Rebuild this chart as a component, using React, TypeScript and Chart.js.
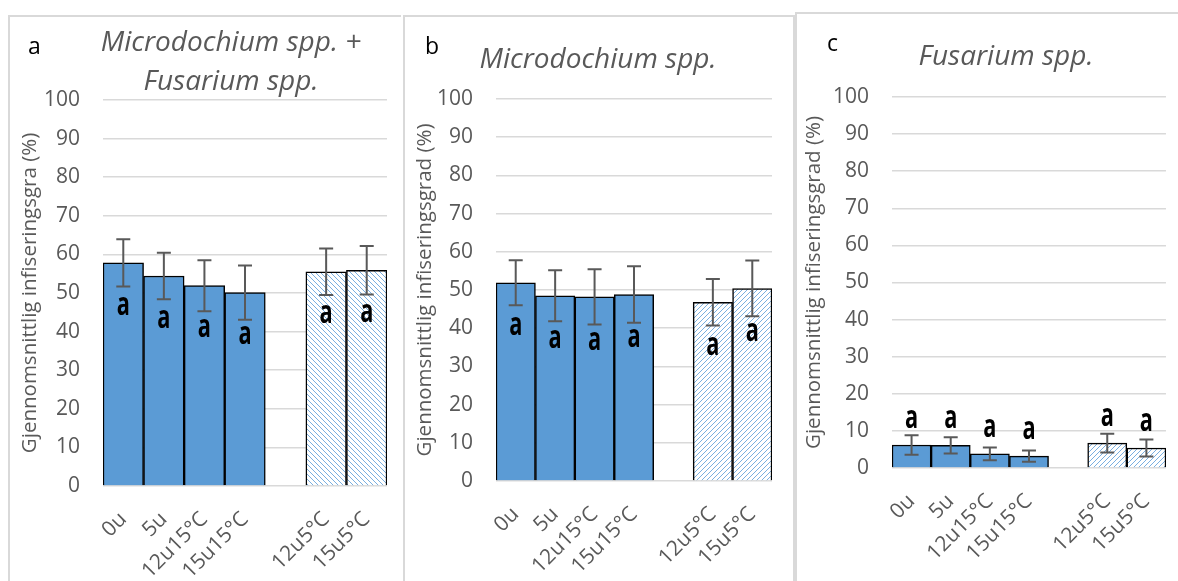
import React, { useEffect, useRef } from "react";
import { Chart, registerables } from "chart.js";

Chart.register(...registerables);

const categories = ["0u", "5u", "12u15°C", "15u15°C", "", "12u5°C", "15u5°C"];
const hatched = [false, false, false, false, false, true, true];

const meansA = [57.8, 54.4, 51.9, 50.1, null, 55.5, 55.9];
const errA = [6.1, 6.0, 6.6, 7.0, null, 6.0, 6.3];
const lettersA = ["a", "a", "a", "a", "", "a", "a"];

const meansB = [51.9, 48.5, 48.2, 48.8, null, 46.8, 50.4];
const errB = [5.9, 6.7, 7.2, 7.4, null, 6.1, 7.3];
const lettersB = ["a", "a", "a", "a", "", "a", "a"];

const meansC = [6.2, 6.1, 3.8, 3.2, null, 6.7, 5.4];
const errC = [2.6, 2.2, 1.7, 1.5, null, 2.5, 2.3];
const lettersC = ["a", "a", "a", "a", "", "a", "a"];

const yTicksMin = 0;
const yTicksMax = 100;
const yTickStep = 10;

const FONT = "'Open Sans', 'DejaVu Sans', sans-serif";
const BLUE = "#5b9bd5";
const GRAY = "#595959";
const GRID = "#d9d9d9";

function makePattern(target: CanvasRenderingContext2D, dir: number) {
  const s = 5;
  const c = document.createElement("canvas");
  c.width = s;
  c.height = s;
  const g = c.getContext("2d")!;
  g.fillStyle = "#ffffff";
  g.fillRect(0, 0, s, s);
  g.strokeStyle = "#6aa6dc";
  g.lineWidth = 0.9;
  for (let k = -1; k <= 1; k++) {
    g.beginPath();
    if (dir > 0) {
      g.moveTo(k * s, s);
      g.lineTo(k * s + s, 0);
    } else {
      g.moveTo(k * s, 0);
      g.lineTo(k * s + s, s);
    }
    g.stroke();
  }
  return target.createPattern(c, "repeat");
}

const errorBarPlugin = {
  id: "errorBars",
  afterDatasetsDraw(chart: any, _args: any, opts: any) {
    const { ctx } = chart;
    const meta = chart.getDatasetMeta(0);
    const yScale = chart.scales.y;
    const means = chart.data.datasets[0].data;
    ctx.save();
    ctx.strokeStyle = opts.color;
    ctx.lineWidth = opts.width;
    meta.data.forEach((bar: any, i: number) => {
      const m = means[i];
      const e = opts.errors[i];
      if (m == null || e == null) return;
      const x = bar.x;
      const yt = yScale.getPixelForValue(m + e);
      const yb = yScale.getPixelForValue(Math.max(0, m - e));
      const cap = opts.cap;
      ctx.beginPath();
      ctx.moveTo(x, yt);
      ctx.lineTo(x, yb);
      ctx.moveTo(x - cap, yt);
      ctx.lineTo(x + cap, yt);
      ctx.moveTo(x - cap, yb);
      ctx.lineTo(x + cap, yb);
      ctx.stroke();
    });
    ctx.fillStyle = "#000000";
    ctx.font = `bold 32px ${FONT}`;
    ctx.textAlign = "center";
    ctx.textBaseline = "alphabetic";
    meta.data.forEach((bar: any, i: number) => {
      const m = means[i];
      const t = opts.letters[i];
      if (m == null || !t) return;
      const yc = yScale.getPixelForValue(m) + opts.letterOffset;
      ctx.save();
      ctx.translate(bar.x, yc + 8.7);
      ctx.scale(0.68, 1);
      ctx.fillText(t, 0, 0);
      ctx.restore();
    });
    ctx.restore();
  },
};

const panelTextPlugin = {
  id: "panelText",
  afterDraw(chart: any, _args: any, opts: any) {
    const { ctx } = chart;
    ctx.save();
    ctx.fillStyle = "#000000";
    ctx.font = `23px ${FONT}`;
    ctx.textAlign = "left";
    ctx.textBaseline = "alphabetic";
    ctx.fillText(opts.letter, opts.letterX, opts.letterY);
    ctx.fillStyle = GRAY;
    ctx.font = `italic 28px ${FONT}`;
    ctx.textAlign = "center";
    opts.lines.forEach((l: string, i: number) => {
      ctx.fillText(l, opts.titleX, opts.titleY + i * opts.lineGap);
    });
    ctx.restore();
  },
};

type PanelCfg = {
  left: number;
  top: number;
  width: number;
  height: number;
  borderRight: boolean;
  means: (number | null)[];
  errors: (number | null)[];
  letters: string[];
  letterOffset: number;
  yTitle: string;
  patternDir: number;
  padRight: number;
  padTop: number;
  yWidth: number;
  xHeight: number;
  yTitlePad: number;
  panelLetter: string;
  titleLines: string[];
  letterX: number;
  letterY: number;
  titleX: number;
  titleY: number;
};

function Panel({ cfg }: { cfg: PanelCfg }) {
  const ref = useRef<HTMLCanvasElement | null>(null);
  useEffect(() => {
    const canvas = ref.current!;
    const ctx = canvas.getContext("2d")!;
    const pattern = makePattern(ctx, cfg.patternDir);
    const bg = hatched.map((h) => (h ? pattern : BLUE));
    const chart = new Chart(canvas, {
      type: "bar",
      data: {
        labels: categories,
        datasets: [
          {
            data: cfg.means as any,
            backgroundColor: bg as any,
            borderColor: "#000000",
            borderWidth: 1.5,
            barPercentage: 1,
            categoryPercentage: 1,
          },
        ],
      },
      options: {
        responsive: false,
        animation: false,
        layout: { padding: { left: 0, right: cfg.padRight, top: cfg.padTop, bottom: 0 } },
        plugins: {
          legend: { display: false },
          tooltip: { enabled: false },
          title: { display: false },
          errorBars: { errors: cfg.errors, letters: cfg.letters, letterOffset: cfg.letterOffset, color: GRAY, width: 2, cap: 7 },
          panelText: {
            letter: cfg.panelLetter,
            letterX: cfg.letterX,
            letterY: cfg.letterY,
            lines: cfg.titleLines,
            titleX: cfg.titleX,
            titleY: cfg.titleY,
            lineGap: 39,
          },
        } as any,
        scales: {
          x: {
            grid: { display: false },
            border: { display: false },
            ticks: {
              autoSkip: false,
              maxRotation: 45,
              minRotation: 45,
              color: GRAY,
              padding: 13,
              font: { family: FONT, size: 21 },
            },
            afterFit: (s: any) => {
              s.height = cfg.xHeight;
            },
          },
          y: {
            min: yTicksMin,
            max: yTicksMax,
            grid: { color: GRID, lineWidth: 1.5, drawTicks: false },
            border: { display: false },
            ticks: {
              stepSize: yTickStep,
              color: GRAY,
              padding: 23,
              font: { family: FONT, size: 21 },
            },
            title: {
              display: true,
              text: cfg.yTitle,
              color: GRAY,
              font: { family: FONT, size: 20.5 },
              padding: { top: cfg.yTitlePad, bottom: 0 },
            },
            afterFit: (s: any) => {
              s.width = cfg.yWidth;
            },
          },
        },
      },
      plugins: [errorBarPlugin, panelTextPlugin],
    });
    return () => chart.destroy();
  }, [cfg]);

  return (
    <div
      style={{
        position: "fixed",
        left: cfg.left,
        top: cfg.top,
        width: cfg.width,
        height: cfg.height,
        borderLeft: `2px solid ${GRID}`,
        borderTop: `2px solid ${GRID}`,
        borderRight: cfg.borderRight ? `2px solid ${GRID}` : "none",
        background: "#ffffff",
      }}
    >
      <canvas
        ref={ref}
        width={cfg.width}
        height={cfg.height}
        style={{ position: "absolute", left: 0, top: 0, width: cfg.width, height: cfg.height }}
      />
    </div>
  );
}

const panelA: PanelCfg = {
  left: 8,
  top: 15,
  width: 391,
  height: 564,
  borderRight: false,
  means: meansA,
  errors: errA,
  letters: lettersA,
  letterOffset: 43,
  yTitle: "Gjennomsnittlig infiseringsgra (%)",
  patternDir: -1,
  padRight: 14,
  padTop: 83,
  yWidth: 93,
  xHeight: 95,
  yTitlePad: 8,
  panelLetter: "a",
  titleLines: ["Microdochium spp. +", "Fusarium spp."],
  letterX: 18,
  letterY: 37,
  titleX: 221,
  titleY: 34,
};

const panelB: PanelCfg = {
  left: 403,
  top: 15,
  width: 388,
  height: 564,
  borderRight: true,
  means: meansB,
  errors: errB,
  letters: lettersB,
  letterOffset: 44,
  yTitle: "Gjennomsnittlig infiseringsgrad (%)",
  patternDir: 1,
  padRight: 21,
  padTop: 82,
  yWidth: 91,
  xHeight: 100,
  yTitlePad: 8,
  panelLetter: "b",
  titleLines: ["Microdochium spp."],
  letterX: 20,
  letterY: 37,
  titleX: 193,
  titleY: 51,
};

const panelC: PanelCfg = {
  left: 795,
  top: 12,
  width: 381,
  height: 567,
  borderRight: false,
  means: meansC,
  errors: errC,
  letters: lettersC,
  letterOffset: -26,
  yTitle: "Gjennomsnittlig infiseringsgrad (%)",
  patternDir: 1,
  padRight: 11,
  padTop: 83,
  yWidth: 95,
  xHeight: 113,
  yTitlePad: 5,
  panelLetter: "c",
  titleLines: ["Fusarium spp."],
  letterX: 30,
  letterY: 37,
  titleX: 209,
  titleY: 51,
};

export default function App() {
  return (
    <div>
      <Panel cfg={panelA} />
      <Panel cfg={panelB} />
      <Panel cfg={panelC} />
    </div>
  );
}
